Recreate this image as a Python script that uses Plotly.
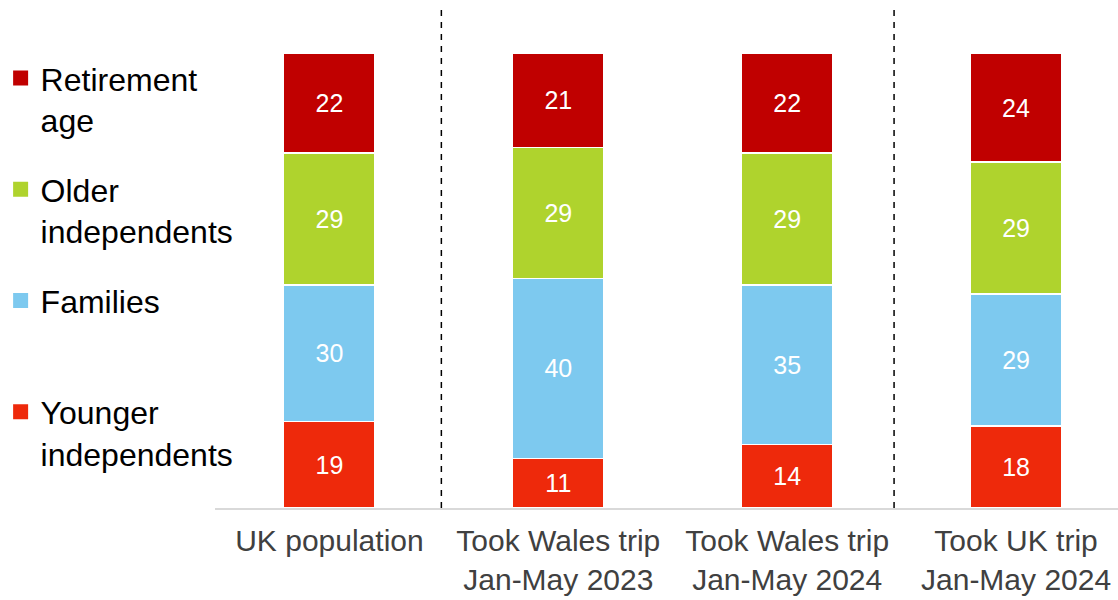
import plotly.graph_objects as go

categories = ["UK population", "Took Wales trip<br>Jan-May 2023",
              "Took Wales trip<br>Jan-May 2024", "Took UK trip<br>Jan-May 2024"]
younger = [19, 11, 14, 18]
families = [30, 40, 35, 29]
older = [29, 29, 29, 29]
retirement = [22, 21, 22, 24]

series = [
    ("Younger<br>independents", younger, "#EE290B"),
    ("Families<br> ", families, "#7DC9EF"),
    ("Older<br>independents", older, "#AFD32D"),
    ("Retirement<br>age", retirement, "#C00000"),
]

FONT = "Liberation Sans, Arial, sans-serif"
fig = go.Figure()
for i, (name, vals, col) in enumerate(series):
    fig.add_trace(go.Bar(
        x=categories, y=vals, name=name, showlegend=False,
        marker=dict(color=col, line=dict(color="white", width=1.5)),
        text=vals, texttemplate="%{text}", textposition="inside",
        insidetextanchor="middle", textangle=0,
        textfont=dict(color="white", size=25, family=FONT),
        width=0.4, hoverinfo="skip",
    ))
# legend entries, top to bottom: Retirement age ... Younger independents
for rank, (name, vals, col) in enumerate(reversed(series)):
    fig.add_trace(go.Scatter(
        x=[None], y=[None], mode="markers", name=name, legendgroup="g%d" % rank,
        legendrank=rank + 1,
        marker=dict(symbol="square", size=15, color=col), showlegend=True,
        hoverinfo="skip",
    ))

L = 214.5
W, H = 1118, 600
plot_w = W - L
span = plot_w / 229.0
fig.update_layout(
    width=W, height=H, barmode="stack", barnorm="percent",
    plot_bgcolor="white", paper_bgcolor="white",
    margin=dict(l=L, r=0, t=0, b=92, autoexpand=False),
    font=dict(family=FONT, size=32, color="#000000"),
    showlegend=True,
    legend=dict(
        traceorder="grouped", x=-L / plot_w, xanchor="left",
        y=0.9, yanchor="top", valign="top", tracegroupgap=25,
        font=dict(size=32, color="#000000", family=FONT),
        bgcolor="rgba(0,0,0,0)", itemsizing="trace",
    ),
    xaxis=dict(
        range=[-0.5, -0.5 + span], showline=True, linecolor="#D9D9D9",
        linewidth=2, showgrid=False, zeroline=False, ticks="",
        tickfont=dict(size=30, color="#404040", family=FONT),
        ticklabelstandoff=5, fixedrange=True, automargin=False,
    ),
    yaxis=dict(range=[0, 508 / 4.55], visible=False, showgrid=False,
               zeroline=False, fixedrange=True, automargin=False),
)

for xs in [0.489, 2.467]:
    fig.add_shape(type="line", xref="x", yref="y", x0=xs, x1=xs, y0=0,
                  y1=109.5, line=dict(color="#000000", width=1.5, dash="6px,6px"))

fig.write_html("out.html")
